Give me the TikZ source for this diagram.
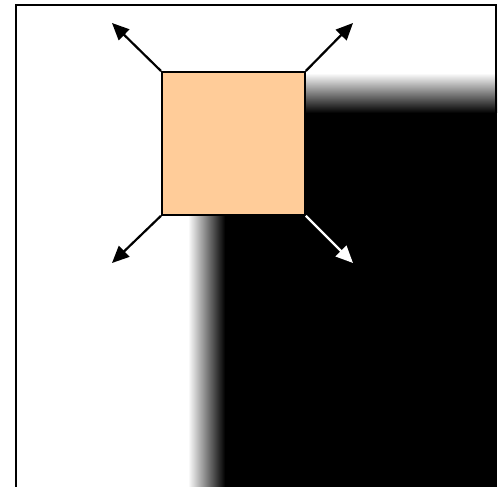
\documentclass[tikz,border=0pt]{standalone}
\usetikzlibrary{arrows.meta}
\definecolor{peach}{RGB}{255,204,153}
\tikzset{
  arr/.style={line width=2.2pt,-{Triangle[length=17pt,width=15pt]}},
  sq/.style={draw=black,line width=1.8pt,fill=peach,minimum width=143pt,minimum height=143pt,inner sep=0pt,anchor=north west},
}
\begin{document}
\begin{tikzpicture}[x=1pt,y=-1pt]
\useasboundingbox (0,0) rectangle (499,487);
\begin{scope}
\clip (0,0) rectangle (499,487);
\fill[black] (224,112) rectangle (497,490);
\shade[left color=white,right color=black] (188,112) rectangle (225,490);
\shade[top color=white,bottom color=black] (224,73) rectangle (497,113);
\draw[line width=2.4pt] (16,495) -- (16,5) -- (496,5) -- (496,495);
\end{scope}
\node[sq] (s) at (161,71) {};
\coordinate (tl) at (112,23);
\coordinate (tr) at (353,23);
\coordinate (bl) at (112,263);
\coordinate (br) at (353,263);
\draw[arr] (s.north west) -- (tl);
\draw[arr] (s.north east) -- (tr);
\draw[arr] (s.south west) -- (bl);
\draw[arr,draw=white,fill=white] (s.south east) -- (br);
\end{tikzpicture}
\end{document}
